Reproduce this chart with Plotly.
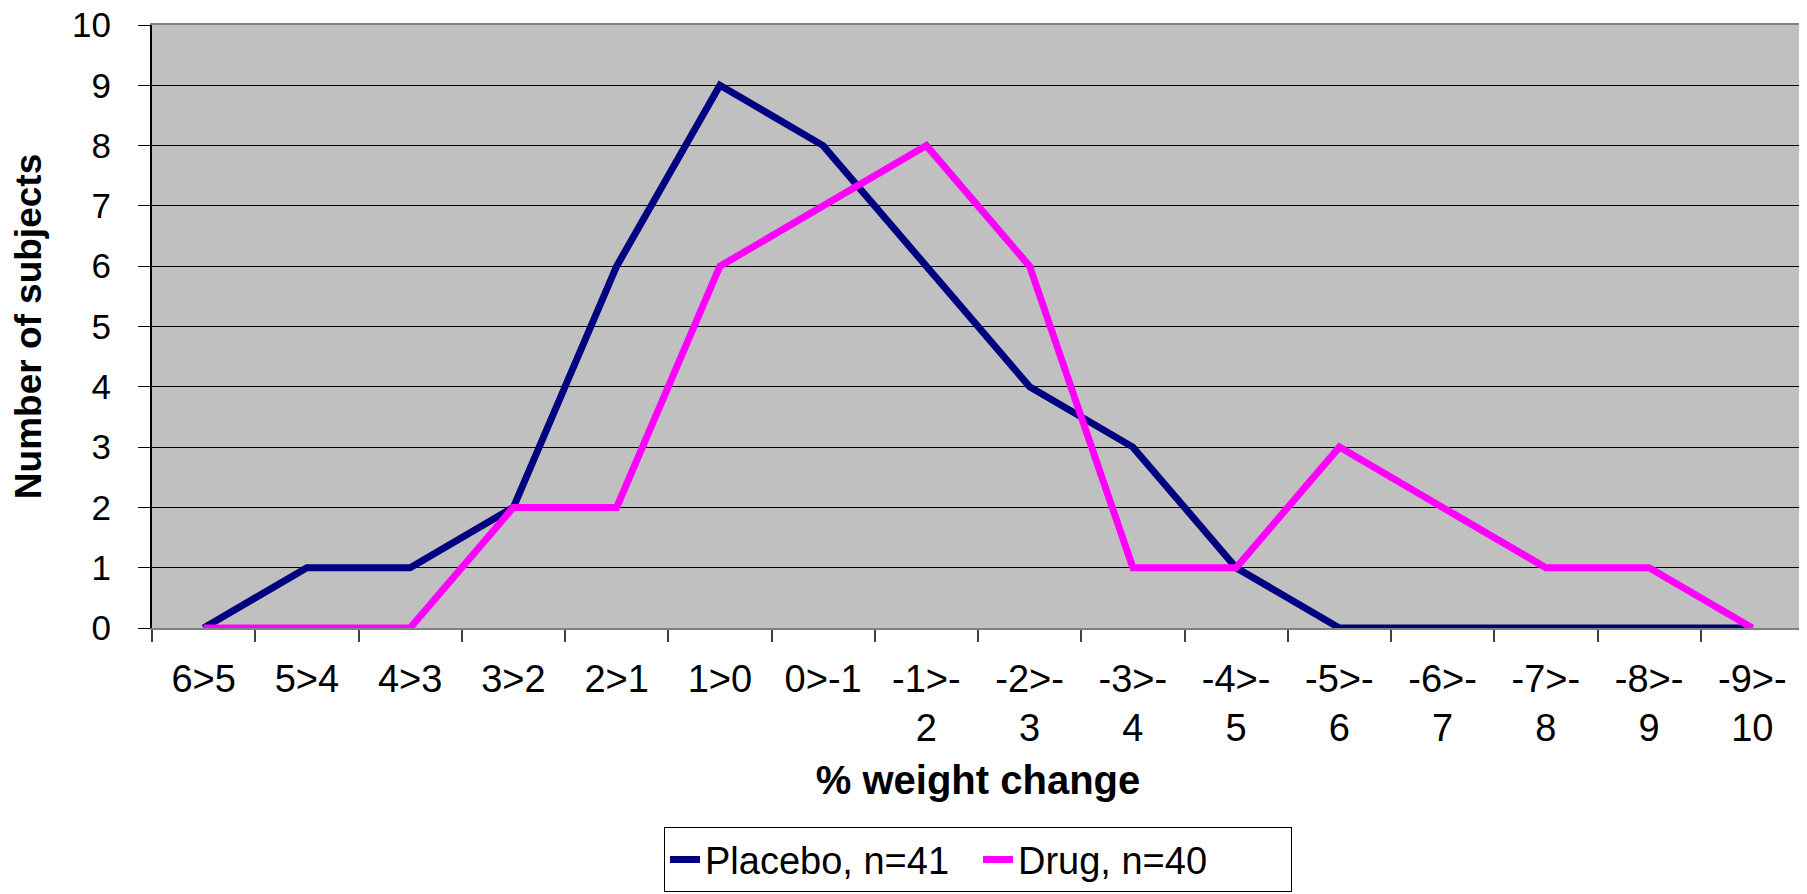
import plotly.graph_objects as go

categories = ["6>5", "5>4", "4>3", "3>2", "2>1", "1>0", "0>-1", "-1>-<br>2", "-2>-<br>3",
              "-3>-<br>4", "-4>-<br>5", "-5>-<br>6", "-6>-<br>7", "-7>-<br>8", "-8>-<br>9", "-9>-<br>10"]
placebo = [0, 1, 1, 2, 6, 9, 8, 6, 4, 3, 1, 0, 0, 0, 0, 0]
drug = [0, 0, 0, 2, 2, 6, 7, 8, 6, 1, 1, 3, 2, 1, 1, 0]
y_ticks = list(range(0, 11))

FONT = "Arial, Liberation Sans, sans-serif"

fig = go.Figure()
fig.add_trace(go.Scatter(x=categories, y=placebo, mode="lines", name="Placebo, n=41",
                         line=dict(color="#000080", width=7), cliponaxis=False))
fig.add_trace(go.Scatter(x=categories, y=drug, mode="lines", name="Drug, n=40",
                         line=dict(color="#FF00FF", width=7), cliponaxis=False))

# page body adds an 8px margin, so the figure is sized to fit inside the window
fig.update_layout(
    width=1799, height=886,
    margin=dict(l=144, r=3, t=17, b=266, autoexpand=False),
    paper_bgcolor="white",
    plot_bgcolor="#C0C0C0",
    font=dict(family=FONT, size=35, color="black"),
    showlegend=True,
    legend=dict(orientation="h", x=0.5, xanchor="center",
                yref="container", y=0.002, yanchor="bottom",
                bordercolor="black", borderwidth=1, bgcolor="white",
                font=dict(family=FONT, size=38, color="black"),
                entrywidth=268, entrywidthmode="pixels",
                tracegroupgap=0),
)

fig.update_xaxes(
    type="category",
    automargin=False,
    tickson="boundaries",
    ticks="outside", ticklen=12, tickcolor="#404040", tickwidth=2,
    showgrid=False,
    showline=True, linecolor="#808080", linewidth=2, mirror=True,
    tickfont=dict(family=FONT, size=38),
    ticklabelstandoff=16,
    ticklabeloverflow="allow",
    title=dict(text="<b>% weight change</b>", font=dict(family=FONT, size=40), standoff=18),
    range=[-0.5, len(categories) - 0.5],
)
fig.update_yaxes(
    automargin=False,
    range=[0, 10],
    tickvals=y_ticks,
    ticks="outside", ticklen=12, tickcolor="black", tickwidth=1,
    showgrid=True, gridcolor="black", gridwidth=1,
    showline=True, linecolor="black", linewidth=2,
    zeroline=False,
    tickfont=dict(family=FONT, size=35),
    ticklabelstandoff=20,
    ticklabeloverflow="allow",
    title=dict(text="<b>Number of subjects</b>", font=dict(family=FONT, size=37), standoff=30),
)

fig.add_shape(type="line", xref="paper", yref="paper", x0=1, x1=1, y0=0, y1=1,
              line=dict(color="#808080", width=3))

fig.write_html("out.html")
